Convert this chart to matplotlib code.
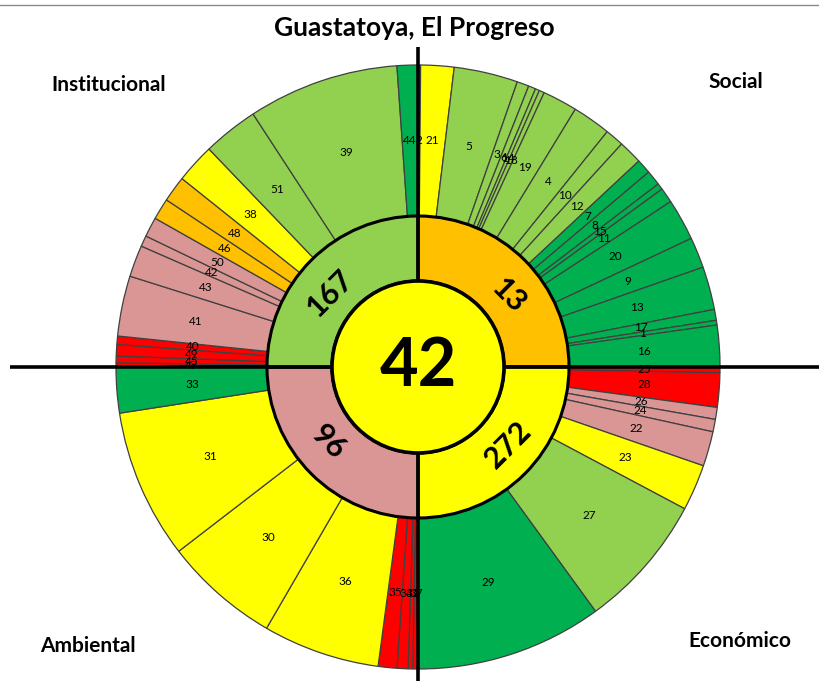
import math
import matplotlib
matplotlib.use("Agg")
import matplotlib.pyplot as plt
from matplotlib.patches import Circle

# ---------------- data ----------------
title = "Guastatoya, El Progreso"
center_value = "42"
dimensions = ["Social", "Económico", "Ambiental", "Institucional"]
dimension_values = ["13", "272", "96", "167"]
dimension_colors = ["#FFC000", "#FFFF00", "#DA9694", "#92D050"]

# outer ring, clockwise from top; widths in degrees (each dimension = 90)
social_ids = [2, 21, 5, 3, 6, 14, 18, 19, 4, 10, 12, 7, 8, 15, 11, 20, 9, 13, 17, 1, 16]
social_widths = [0.5, 6.4, 12.3, 2.3, 1.4, 0.8, 1.0, 6.7, 7.4, 3.6, 4.6,
                 2.8, 2.9, 1.2, 2.9, 8.0, 5.9, 8.3, 2.1, 0.9, 8.0]
social_colors = list("RYLLLLLLLLLGGGGGGGGGG")

economico_ids = [25, 28, 26, 24, 22, 23, 27, 29]
economico_widths = [1.1, 6.6, 2.3, 2.4, 6.7, 8.9, 26.0, 36.0]
economico_colors = list("RRPPPYLG")

ambiental_ids = [37, 32, 34, 35, 36, 30, 31, 33]
ambiental_widths = [1.0, 0.9, 2.1, 3.6, 22.5, 22.3, 28.8, 8.8]
ambiental_colors = list("RRRRYYYG")

institucional_ids = [47, 45, 49, 40, 41, 43, 42, 50, 46, 48, 38, 51, 39, 44]
institucional_widths = [0.8, 1.3, 2.2, 1.6, 11.6, 6.1, 2.1, 3.8, 4.1, 5.0, 7.6, 10.7, 29.1, 4.0]
institucional_colors = list("RRRRPPPPOOYLLG")

palette = {"R": "#FF0000", "Y": "#FFFF00", "L": "#92D050", "G": "#00B050",
           "O": "#FFC000", "P": "#DA9694"}

# ---------------- layout ----------------
W, H = 819, 681
plt.rcParams["font.family"] = ["Lato", "DejaVu Sans"]
fig = plt.figure(figsize=(W / 100, H / 100), dpi=100)
ax = fig.add_axes([0, 0, 1, 1])

cx, cy = 418, H - 367
R_out, R_mid, R_in = 302, 151, 86

ids = social_ids + economico_ids + ambiental_ids + institucional_ids
widths = social_widths + economico_widths + ambiental_widths + institucional_widths
cols = [palette[c] for c in social_colors + economico_colors + ambiental_colors + institucional_colors]

ax.pie(widths, radius=R_out, center=(cx, cy), startangle=90, counterclock=False,
       colors=cols, labels=[str(i) for i in ids], labeldistance=(R_out + R_mid) / 2 / R_out,
       wedgeprops=dict(width=R_out - R_mid, edgecolor="#404040", linewidth=0.9),
       textprops=dict(ha="center", va="center", fontsize=8.5, color="black"),
       frame=True)

ax.pie([1, 1, 1, 1], radius=R_mid, center=(cx, cy), startangle=90, counterclock=False,
       colors=dimension_colors,
       wedgeprops=dict(width=R_mid - R_in, edgecolor="black", linewidth=2.2),
       frame=True)

# axis cross lines
ax.plot([10, W], [cy, cy], color="black", lw=2.6, zorder=4, solid_capstyle="butt")
ax.plot([cx, cx], [H - 47, 0], color="black", lw=2.6, zorder=4, solid_capstyle="butt")

# center circle
ax.add_patch(Circle((cx, cy), R_in, facecolor="#FFFF00", edgecolor="black", lw=2.6, zorder=5))
ax.text(cx, cy, center_value, ha="center", va="center", fontsize=48,
        fontweight="bold", zorder=6)

# dimension values (label placement: bearing, radius, rotation)
lab_bearings = [52, 131, 230, 310]
lab_radii = [115, 119, 117, 115]
lab_rot = [-45, 45, -45, 45]
for bearing, rr, val, rot in zip(lab_bearings, lab_radii, dimension_values, lab_rot):
    a = math.radians(bearing)
    ax.text(cx + rr * math.sin(a), cy + rr * math.cos(a), val, ha="center",
            va="center", rotation=rot, rotation_mode="anchor", fontsize=22,
            fontweight="bold", zorder=6)

# titles
ax.text(414, H - 28, title, ha="center", va="center", fontsize=19, fontweight="bold")
ax.text(109, H - 85, dimensions[3], ha="center", va="center", fontsize=15, fontweight="bold")
ax.text(736, H - 82, dimensions[0], ha="center", va="center", fontsize=15, fontweight="bold")
ax.text(88, H - 646, dimensions[2], ha="center", va="center", fontsize=15, fontweight="bold")
ax.text(740, H - 641, dimensions[1], ha="center", va="center", fontsize=15, fontweight="bold")

ax.plot([0, W], [H - 4.5, H - 4.5], color="#8a8a8a", lw=1)

ax.set_xlim(0, W)
ax.set_ylim(0, H)
ax.set_aspect("equal")
ax.axis("off")
fig.savefig("out.png", dpi=100)
